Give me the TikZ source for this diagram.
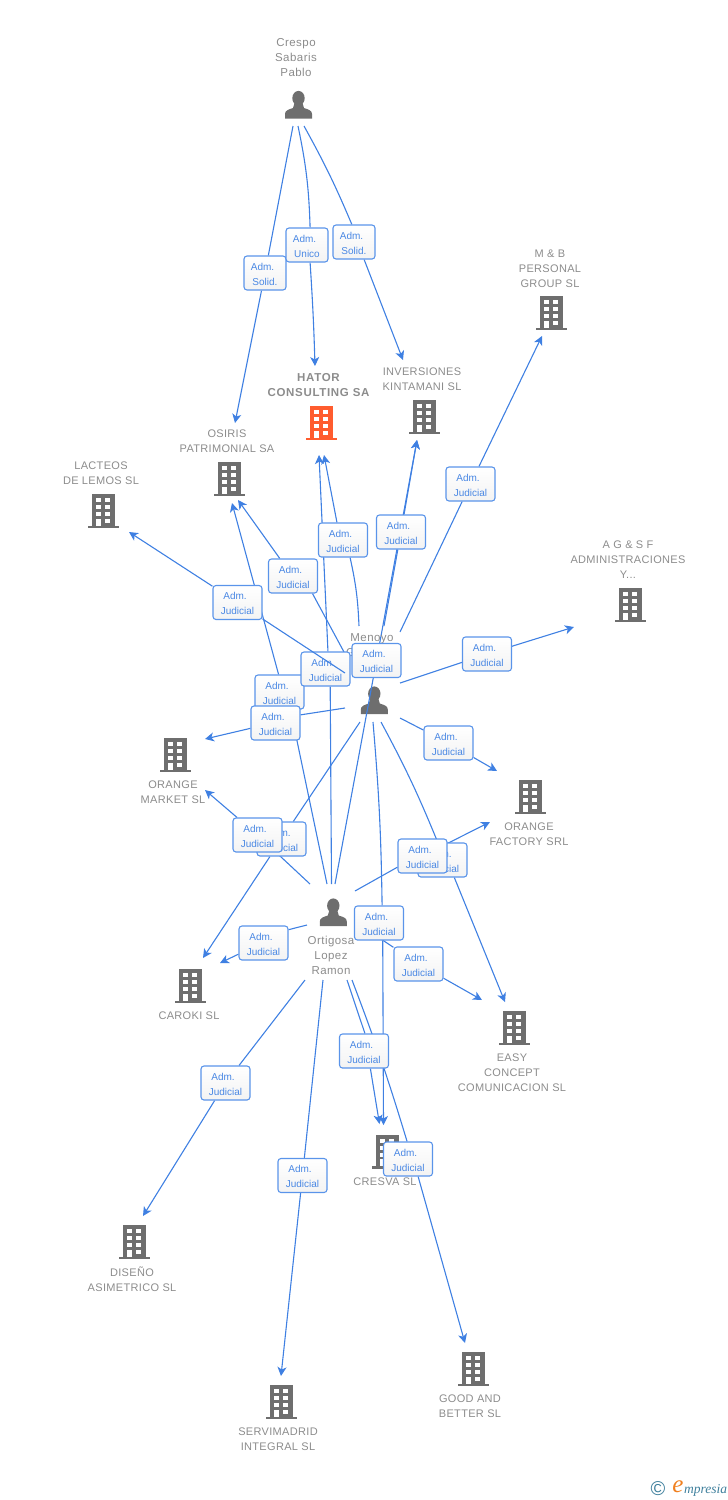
\documentclass[tikz,border=0pt]{standalone}
\usepackage{fontspec}
\usetikzlibrary{arrows.meta}
\setmainfont{Liberation Sans}
\newfontfamily\namefont[LetterSpace=3]{Liberation Sans}
\newfontfamily\personfont[LetterSpace=4]{Liberation Sans}
\newfontfamily\hatorfont[LetterSpace=6]{Liberation Sans}
\newfontfamily\logofont{Liberation Serif}

\definecolor{linkblue}{HTML}{3F80E2}
\definecolor{boxblue}{HTML}{5A94EA}
\definecolor{boxtext}{HTML}{4A88E4}
\definecolor{boxshade}{HTML}{F3F3F3}
\definecolor{namegray}{HTML}{8C8C8C}
\definecolor{icongray}{HTML}{6E6E6E}
\definecolor{hatororange}{HTML}{FF5C2E}
\definecolor{logoteal}{HTML}{3E7F9C}
\definecolor{logoorange}{HTML}{F08020}

\pgfdeclarelayer{icons}
\pgfdeclarelayer{links}
\pgfdeclarelayer{top}
\pgfsetlayers{icons,links,main,top}

\tikzset{
    link/.style={draw=linkblue, line width=1.1pt},
    linkto/.style={link, -{Stealth[length=9pt,width=9pt,inset=2.5pt]}},
    admbox/.style={draw=boxblue, line width=1.1pt, rounded corners=3pt, top color=white, bottom color=boxshade,
        minimum width=49pt, minimum height=34pt, inner sep=0pt, align=center, text=boxtext,
        font=\fontsize{10}{15}\selectfont},
    namelabel/.style={inner sep=0pt, yshift=-0.8pt, align=center, text=namegray, font=\namefont\fontsize{11}{15}\selectfont},
    personlabel/.style={namelabel, font=\personfont\fontsize{11.5}{15}\selectfont},
    pics/building/.style={code={
        \fill[pic actions] (-11.5,-17) rectangle (11.5,14.5);
        \fill[pic actions] (-15.5,14.5) rectangle (15.5,17);
        \foreach \wy in {-13,-6,1} {
            \fill[white] (-6.7,\wy) rectangle (-2,\wy+4.4);
            \fill[white] (2.3,\wy) rectangle (7.3,\wy+4.4);
        }
        \fill[white] (-6.7,7.5) rectangle (-2,14.5);
        \fill[white] (2.3,7.5) rectangle (7.3,11.5);
    }},
    pics/person/.style={code={
        \fill[pic actions] (0,-6.8) ellipse (6.2 and 7.3);
        \fill[pic actions] (-13.5,13.5) -- (13.5,13.5) -- (13.5,9) .. controls (13.5,5.5) and (10,4.5) .. (5.5,3)
            -- (4,-2) -- (-4,-2) -- (-5.5,3) .. controls (-10,4.5) and (-13.5,5.5) .. (-13.5,9) -- cycle;
    }}
}
\newcommand{\admline}{Adm.\hspace*{5pt}\rule{0pt}{9.2pt}}

\begin{document}
\begin{tikzpicture}[x=1pt, y=-1pt]
    \useasboundingbox (0,0) rectangle (728,1500);

    % Icons and names
    \begin{pgfonlayer}{icons}
        \pic[fill=icongray] at (298.5,105) {person};
        \pic[fill=icongray] at (374.3,700.5) {person};
        \pic[fill=icongray] at (333.3,912.5) {person};
        \pic[fill=hatororange] at (321,423) {building};
        \pic[fill=icongray] at (229,479) {building};
        \pic[fill=icongray] at (103,511) {building};
        \pic[fill=icongray] at (424,417) {building};
        \pic[fill=icongray] at (551,313) {building};
        \pic[fill=icongray] at (630,605) {building};
        \pic[fill=icongray] at (175,755) {building};
        \pic[fill=icongray] at (530,797) {building};
        \pic[fill=icongray] at (190,986) {building};
        \pic[fill=icongray] at (514,1028) {building};
        \pic[fill=icongray] at (387,1151.5) {building};
        \pic[fill=icongray] at (134,1242) {building};
        \pic[fill=icongray] at (473,1369) {building};
        \pic[fill=icongray] at (281,1402) {building};
    \end{pgfonlayer}

    \node[personlabel] (crespo) at (296,57) {Crespo\\Sabaris\\Pablo};
    \node[namelabel, font=\hatorfont\bfseries\fontsize{11.5}{15}\selectfont] (hator) at (318.5,384.5) {HATOR\\CONSULTING SA};
    \node[namelabel] (inversiones) at (422,378.5) {INVERSIONES\\KINTAMANI SL};
    \node[namelabel] (mb) at (550,268) {M \& B\\PERSONAL\\GROUP SL};
    \node[namelabel] (osiris) at (227,440.5) {OSIRIS\\PATRIMONIAL SA};
    \node[namelabel] (lacteos) at (101,472.5) {LACTEOS\\DE LEMOS SL};
    \node[namelabel] (ags) at (628,559) {A G \& S F\\ADMINISTRACIONES\\Y...};
    \node[personlabel] (menoyo) at (372,638) {Menoyo};
    \node[personlabel] (menoyog) at (350.5,652) {G};
    \node[namelabel] (market) at (173,791.5) {ORANGE\\MARKET SL};
    \node[namelabel] (factory) at (529,833.5) {ORANGE\\FACTORY SRL};
    \node[personlabel] (ortigosa) at (331,955) {Ortigosa\\Lopez\\Ramon};
    \node[namelabel] (caroki) at (189,1015) {CAROKI SL};
    \node[namelabel] (easy) at (512,1072) {EASY\\CONCEPT\\COMUNICACION SL};
    \node[namelabel] (cresva) at (385,1181) {CRESVA SL};
    \node[namelabel] (diseno) at (132,1278.5) {DISEÑO\\ASIMETRICO SL};
    \node[namelabel] (good) at (470,1405.5) {GOOD AND\\BETTER SL};
    \node[namelabel] (servi) at (278,1438.5) {SERVIMADRID\\INTEGRAL SL};

    % Boxes of Crespo
    \node[admbox, minimum width=42pt] (solidA) at (265,273) {\admline\\Solid.};
    \node[admbox, minimum width=42pt] (unico) at (307,245) {\admline\\Unico};
    \node[admbox, minimum width=42pt] (solidB) at (354,242) {\admline\\Solid.};

    % Boxes of Menoyo and Ortigosa, later ones lie on top
    \node[admbox] (admLacteos) at (237.5,602.5) {\admline\\Judicial};
    \node[admbox] (admOsirisM) at (293,576) {\admline\\Judicial};
    \node[admbox] (admHatorM) at (343,540) {\admline\\Judicial};
    \node[admbox] (admInverM) at (401,532) {\admline\\Judicial};
    \node[admbox] (admMb) at (470.5,484) {\admline\\Judicial};
    \node[admbox] (admAgs) at (487,654) {\admline\\Judicial};
    \node[admbox] (admOsirisO) at (279.5,692) {\admline\\Judicial};
    \node[admbox] (admMarketM) at (275.5,723) {\admline\\Judicial};
    \node[admbox] (admHatorO) at (325.5,669) {\admline\\Judicial};
    \node[admbox] (admInverO) at (376.5,660.5) {\admline\\Judicial};
    \node[admbox] (admFactoryM) at (448.5,743) {\admline\\Judicial};
    \node[admbox] (admCaroki) at (281.5,839) {\admline\\Judicial};
    \node[admbox] (admMarketO) at (257.5,835) {\admline\\Judicial};
    \node[admbox] (admEasyM) at (442.5,860) {\admline\\Judicial};
    \node[admbox] (admFactoryO) at (422.5,856) {\admline\\Judicial};
    \node[admbox] (admCresvaM) at (379,923) {\admline\\Judicial};
    \node[admbox] (admCarokiO) at (263.5,943) {\admline\\Judicial};
    \node[admbox] (admEasyO) at (418.5,964) {\admline\\Judicial};
    \node[admbox] (admCresvaO) at (364,1051) {\admline\\Judicial};
    \node[admbox] (admDiseno) at (225.5,1083) {\admline\\Judicial};
    \node[admbox] (admGood) at (408,1159) {\admline\\Judicial};
    \node[admbox] (admServi) at (302.5,1175.5) {\admline\\Judicial};

    % Free ends of the connectors
    \coordinate (crespoA) at (293,126);  \coordinate (crespoB) at (298,126);  \coordinate (crespoC) at (304,126);
    \coordinate (tipOsirisC) at (235,423);  \coordinate (tipHatorC) at (315,366);  \coordinate (tipInverC) at (403,360);
    \coordinate (menoyoNW) at (345,673);  \coordinate (menoyoNN) at (344,652);  \coordinate (menoyoTopA) at (359,626);
    \coordinate (menoyoTopB) at (384,626);  \coordinate (menoyoTopC) at (400,632);  \coordinate (menoyoE) at (400,683);
    \coordinate (menoyoSE) at (400,718);  \coordinate (menoyoW) at (345,708);  \coordinate (menoyoSW) at (360,722);
    \coordinate (menoyoS) at (373,722);  \coordinate (menoyoSS) at (381,722);
    \coordinate (tipLacteos) at (129,532);  \coordinate (tipOsirisM) at (238,500);  \coordinate (tipHatorM) at (324,455);
    \coordinate (tipInverM) at (417,440);  \coordinate (tipMb) at (542,336);  \coordinate (tipAgs) at (574,627);
    \coordinate (tipFactoryM) at (497,771);  \coordinate (tipEasyM) at (505,1002);  \coordinate (tipMarketM) at (205,739);
    \coordinate (tipCaroki) at (203,958);  \coordinate (tipCresvaM) at (383.5,1125);
    \coordinate (ortigosaA) at (327,884);  \coordinate (ortigosaB) at (331.5,884);  \coordinate (ortigosaC) at (335,884);
    \coordinate (ortigosaNW) at (310,884);  \coordinate (ortigosaNE) at (355,891);  \coordinate (ortigosaW) at (307,925);
    \coordinate (ortigosaE) at (360,925);  \coordinate (ortigosaSW) at (305,980);  \coordinate (ortigosaS) at (323,980);
    \coordinate (ortigosaSE) at (347,980);  \coordinate (ortigosaSS) at (352,980);
    \coordinate (tipOsirisO) at (232,503);  \coordinate (tipHatorO) at (319,455);  \coordinate (tipMarketO) at (205,790);
    \coordinate (tipFactoryO) at (490,822);  \coordinate (tipCarokiO) at (220,963);  \coordinate (tipEasyO) at (482,1000);
    \coordinate (tipCresvaO) at (379.5,1124);  \coordinate (tipGood) at (465,1343);  \coordinate (tipDiseno) at (143,1216);
    \coordinate (tipServi) at (281,1376);

    % Connectors run under the boxes
    \begin{pgfonlayer}{links}
        \draw[linkto] (crespoA) -- (solidA) -- (tipOsirisC);
        \draw[linkto] (crespoB) to[bend left=5] (unico.80) (unico.-80) to[bend left=1] (tipHatorC);
        \draw[linkto] (crespoC) to[bend left=3] (solidB.97) (solidB.-60) -- (tipInverC);

        \draw[linkto] (admLacteos) -- (tipLacteos);
        \draw[linkto] (menoyoNN) -- (admOsirisM.-42) (admOsirisM.127) -- (tipOsirisM);
        \draw[linkto] (menoyoTopA) to[bend right=5] (admHatorM.-68) (admHatorM.109) -- (tipHatorM);
        \draw[linkto] (menoyoTopB) -- (admInverM) -- (tipInverM);
        \draw[linkto] (menoyoTopC) -- (admMb) -- (tipMb);
        \draw[linkto] (menoyoE) -- (admAgs) -- (tipAgs);
        \draw[linkto] (menoyoSE) -- (admFactoryM) -- (tipFactoryM);
        \draw[linkto] (menoyoSS) to[bend left=3] (admEasyM.105) (admEasyM.-56) -- (tipEasyM);
        \draw[linkto] (menoyoW) -- (admMarketM.18) (admMarketM.-168) -- (tipMarketM);
        \draw[linkto] (menoyoSW) -- (admCaroki) -- (tipCaroki);
        \draw[linkto] (menoyoS) to[bend left=2] (admCresvaM.80) (admCresvaM.-78) -- (tipCresvaM);

        \draw[linkto] (ortigosaA) -- (admOsirisO.-58) (admOsirisO.93) -- (tipOsirisO);
        \draw[linkto] (ortigosaB) -- (admHatorO.-75) (admHatorO.82) -- (tipHatorO);
        \draw[linkto] (ortigosaC) -- (admInverO) -- (tipInverM);
        \draw[linkto] (ortigosaNW) -- (admMarketO) -- (tipMarketO);
        \draw[linkto] (ortigosaNE) -- (admFactoryO.-156) (admFactoryO) -- (tipFactoryO);
        \draw[linkto] (ortigosaW) -- (admCarokiO.28) (admCarokiO.-156) -- (tipCarokiO);
        \draw[linkto] (ortigosaE) -- (admEasyO) -- (tipEasyO);
        \draw[linkto] (ortigosaSE) -- (admCresvaO.87) (admCresvaO.-70) -- (tipCresvaO);
        \draw[linkto] (ortigosaSS) to[bend left=2] (admGood.93) (admGood.-60) -- (tipGood);
        \draw[linkto] (ortigosaSW) -- (admDiseno) -- (tipDiseno);
        \draw[linkto] (ortigosaS) -- (admServi) -- (tipServi);
    \end{pgfonlayer}

    % This one crosses a box
    \begin{pgfonlayer}{top}
        \draw[link] (menoyoNW) -- (admLacteos);
    \end{pgfonlayer}

    % Logo
    \node[inner sep=0pt, text=logoteal, font=\fontsize{20}{20}\selectfont] (logoc) at (658,1489) {\textcopyright};
    \node[inner sep=0pt, text=logoorange, font=\logofont\itshape\fontsize{25}{25}\selectfont] (logoe) at (678,1487) {e};
    \node[inner sep=0pt, text=logoteal, anchor=base west, font=\logofont\itshape\fontsize{13.5}{14}\selectfont] (logotext) at (684,1493) {mpresia};
\end{tikzpicture}
\end{document}
